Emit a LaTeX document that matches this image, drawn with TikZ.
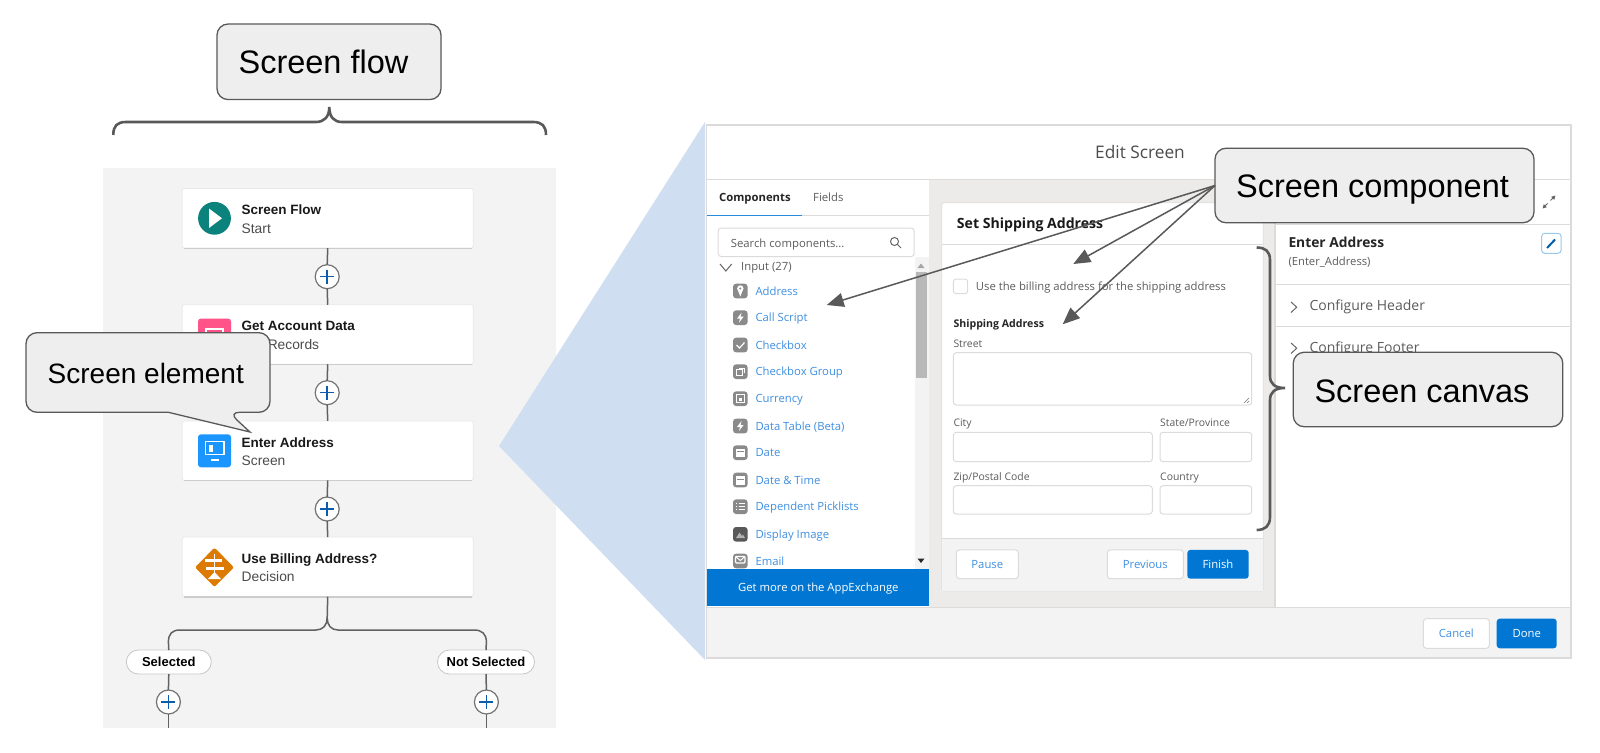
\documentclass[tikz,border=0pt]{standalone}
\usepackage{fontspec}
\setmainfont{Liberation Sans}
\newfontfamily\uifont{Open Sans}
\usetikzlibrary{arrows.meta}
\definecolor{panelgrey}{HTML}{F3F3F3}
\definecolor{midgrey}{HTML}{ECEBEA}
\definecolor{edgegrey}{HTML}{DDDBDA}
\definecolor{boxgrey}{HTML}{EEEEEE}
\definecolor{inkgrey}{HTML}{595959}
\definecolor{wedgeblue}{HTML}{CFDFF1}
\definecolor{sfblue}{HTML}{0176D3}
\definecolor{linkblue}{HTML}{3F8FE0}
\definecolor{plusblue}{HTML}{0B5CAB}
\definecolor{labelgrey}{HTML}{5C5C5C}
\definecolor{iconteal}{HTML}{0B827C}
\definecolor{iconpink}{HTML}{FF538A}
\definecolor{iconblue}{HTML}{1B96FF}
\definecolor{iconorange}{HTML}{DD7A01}
\definecolor{icongrey}{HTML}{8A8A8A}
\tikzset{
  calloutbox/.style={draw=inkgrey,fill=boxgrey,line width=1.3pt,rounded corners=11pt,inner sep=0pt,outer sep=0pt},
  callouttext/.style={inner sep=0pt,font=\fontsize{32.5}{38}\selectfont},
  calloutarrow/.style={draw=inkgrey,line width=1.5pt,-{Triangle[length=17pt,width=14pt]}},
  bracket/.style={draw=inkgrey,line width=2.6pt},
  flowcard/.style={draw=black!9,fill=white,line width=0.7pt,rounded corners=2pt,minimum width=291pt,minimum height=59.5pt,inner sep=0pt,outer sep=0pt},
  cardtitle/.style={anchor=west,inner sep=0pt,text height=10pt,text depth=0pt,text=black!90,font=\bfseries\fontsize{13.5}{15}\selectfont},
  cardsub/.style={anchor=west,inner sep=0pt,text height=10pt,text depth=0pt,text=black!70,font=\fontsize{13.8}{15}\selectfont},
  flowline/.style={draw=black!62,line width=1.5pt},
  plusnode/.style={circle,draw=black!55,fill=white,line width=1.2pt,minimum size=24pt,inner sep=0pt,outer sep=0pt},
  plusmark/.style={draw=plusblue,line width=1.5pt},
  pillnode/.style={draw=black!22,fill=white,rounded corners=12pt,line width=0.8pt,minimum height=24pt,inner sep=0pt,outer sep=0pt,font=\bfseries\fontsize{13}{15}\selectfont},
  uitext/.style={anchor=west,inner sep=0pt,text height=8.5pt,text depth=0.5pt,text=labelgrey,font=\uifont\fontsize{11.3}{13}\selectfont},
  uibold/.style={uitext,text=black!85,font=\uifont\bfseries\fontsize{11.3}{13}\selectfont},
  uilabel/.style={uitext,font=\uifont\fontsize{10.4}{13}\selectfont},
  uilarge/.style={uitext,text height=10pt,text depth=0pt,font=\uifont\fontsize{14}{16}\selectfont},
  linktext/.style={uitext,text=linkblue},
  inputbox/.style={draw=edgegrey,fill=white,line width=1pt,rounded corners=3pt},
  chevron/.style={draw=black!60,line width=1pt},
  whitebtn/.style={draw=edgegrey,fill=white,line width=1pt,rounded corners=3pt,inner sep=0pt,text=linkblue,font=\uifont\fontsize{11.3}{13}\selectfont},
  bluebtn/.style={fill=sfblue,rounded corners=3pt,inner sep=0pt,text=white,font=\uifont\fontsize{11.3}{13}\selectfont},
  glyph/.style={draw=white,line width=1.2pt},
}
\begin{document}
\begin{tikzpicture}[x=1pt,y=-1pt]
\useasboundingbox (0,0) rectangle (1600,752);

\fill [white] (0,0) rectangle (1600,752);
\fill [panelgrey] (103,168) rectangle (556,728);
\fill [wedgeblue] (499,446)--(705,122)--(705,660)--cycle;

\node[flowcard] (cardstart) at (327.7,218.3) {};
\node[flowcard] (cardget) at (327.7,334.5) {};
\node[flowcard] (cardscreen) at (327.7,450.7) {};
\node[flowcard] (carddecide) at (327.7,566.8) {};
\foreach \c in {cardstart,cardget,cardscreen,carddecide}
  \draw [black!20,line width=1.2pt] (\c.south west) ++(1.5,0.4) -- ([xshift=-1.5pt,yshift=-0.4pt]\c.south east);

\node[plusnode] (plusa) at (327.2,276.7) {};
\node[plusnode] (plusb) at (327.2,392.7) {};
\node[plusnode] (plusc) at (327.2,509) {};
\node[plusnode] (plusd) at (168.4,702) {};
\node[plusnode] (pluse) at (486.4,702) {};
\foreach \n in {a,b,c,d,e}
  \draw [plusmark] (plus\n.center) ++(-7,0) -- ++(14,0) ++(-7,-7) -- ++(0,14);

\node[pillnode,minimum width=85pt] (pillyes) at (168.8,662) {Selected};
\node[pillnode,minimum width=97pt] (pillno) at (486,662) {Not Selected};
\coordinate (endyes) at (168.4,728);
\coordinate (endno) at (486.4,728);
\coordinate (forktip) at (327.2,618);

\draw [flowline] (cardstart.south) -- (plusa.north);
\draw [flowline] (plusa.south) -- (cardget.north);
\draw [flowline] (cardget.south) -- (plusb.north);
\draw [flowline] (plusb.south) -- (cardscreen.north);
\draw [flowline] (cardscreen.south) -- (plusc.north);
\draw [flowline] (plusc.south) -- (carddecide.north);
\draw [flowline] (carddecide.south) -- (forktip);
\draw [flowline] (forktip) .. controls (327.2,625) and (323,630) .. (316,630) -- (180,630) .. controls (172,630) and (168.4,634) .. (168.4,642) -- (pillyes.north);
\draw [flowline] (forktip) .. controls (327.2,625) and (331,630) .. (338,630) -- (474,630) .. controls (482,630) and (486.4,634) .. (486.4,642) -- (pillno.north);
\draw [flowline] (pillyes.south) -- (plusd.north);
\draw [flowline] (pillno.south) -- (pluse.north);
\draw [flowline] (plusd.south) -- (endyes);
\draw [flowline] (pluse.south) -- (endno);

\node[cardtitle] (titlestart) at (241.5,209.5) {Screen Flow};
\node[cardsub] (substart) at (241.5,228) {Start};
\node[cardtitle] (titleget) at (241.5,325.7) {Get Account Data};
\node[cardsub] (subget) at (241.5,344) {Get Records};
\node[cardtitle] (titlescreen) at (241.5,442) {Enter Address};
\node[cardsub] (subscreen) at (241.5,460.7) {Screen};
\node[cardtitle] (titledecide) at (241.5,558) {Use Billing Address?};
\node[cardsub] (subdecide) at (241.5,576.7) {Decision};

\fill [iconteal] (214.5,218.3) circle (16.4);
\fill [white] (209,208.5)--(222,218.3)--(209,228)--cycle;
\fill [iconpink,rounded corners=3pt] (198,318.5) rectangle (231,351);
\draw [white,line width=2pt] (206,329) rectangle (223,336);
\fill [iconblue,rounded corners=3pt] (198,434.3) rectangle (231,467.3);
\draw [white,line width=1.5pt] (205.5,441.7) rectangle (224,454.7);
\fill [white] (208.5,444.5) rectangle (212.5,452);
\fill [white] (210.5,459) rectangle (219,461);
\fill [iconorange,rounded corners=2pt] (195,567.3)--(214.5,547.7)--(234,567.3)--(214.5,587)--cycle;
\draw [white,line width=1pt] (214.5,554)--(214.5,574);
\fill [white] (205,558.5) rectangle (222,562);
\fill [white] (206,566.5) rectangle (224,570);
\fill [white] (208,579)--(214.5,572)--(221,579)--cycle;

\draw [bracket] (113.3,135) .. controls (113.3,126) and (117,122) .. (126,122) -- (316,122) .. controls (324,122) and (329.3,117) .. (329.3,107) .. controls (329.3,117) and (334,122) .. (342,122) -- (533,122) .. controls (542,122) and (546,126) .. (546,135);

\draw [draw=edgegrey,fill=white,line width=1.2pt] (706.5,125) rectangle (1571,658);
\fill [panelgrey] (707,607) rectangle (1570.4,657.4);
\fill [midgrey] (928.7,179.5) rectangle (1275,607);
\draw [edgegrey,line width=0.8pt] (707,179)--(1570.4,179);
\draw [edgegrey,line width=0.8pt] (707,607)--(1570.4,607);
\draw [edgegrey,line width=1.5pt] (1275,179)--(1275,607);
\node[uitext,text=black!70,anchor=center,text height=12.5pt,text depth=0pt,font=\uifont\fontsize{17.3}{20}\selectfont] (edittitle) at (1140,152.3) {Edit Screen};

\node[uibold] (tabcomp) at (719,197.7) {Components};
\node[uitext] (tabfield) at (813,197.7) {Fields};
\draw [edgegrey,line width=0.8pt] (707,215.3)--(928.7,215.3);
\draw [sfblue!85!white,line width=1.6pt] (707,215.3)--(801.7,215.3);
\node[inputbox,minimum width=196pt,minimum height=28.5pt,inner sep=0pt] (searchbox) at (816.2,242.3) {};
\node[uitext] (searchtext) at (730.7,243) {Search components...};
\draw [black!60,line width=1pt] (894.5,241.5) circle (4) (897.5,244.5)--(901,248);
\draw [chevron] (720,264)--(725.8,271)--(731.7,264);
\node[uitext] (inputhead) at (741,266.7) {Input (27)};

\fill [panelgrey] (915,257)rectangle (928.7,569);
\fill [black!28] (915.5,272) rectangle (927,378);
\fill [black!35] (917.5,268)--(921,263.5)--(924.5,268)--cycle;
\fill [black!85] (917.5,558.5)--(924.5,558.5)--(921,563)--cycle;

\foreach \yy/\lab/\shade in {291/Address/icongrey,317.7/Call Script/icongrey,345/Checkbox/icongrey,371.7/Checkbox Group/icongrey,398.7/Currency/icongrey,426/Data Table (Beta)/icongrey,452.7/Date/icongrey,480/Date \& Time/icongrey,506.7/Dependent Picklists/icongrey,534.3/Display Image/black!65,561/Email/icongrey}
{
  \fill [\shade,rounded corners=3pt] (733,\yy-7.3) rectangle (747.6,\yy+7.3);
  \node[linktext] at (755.3,\yy) {\lab};
}
\fill [white] (740.3,288.5) circle (3.2);
\fill [white] (737.8,290)--(742.8,290)--(740.3,296.5)--cycle;
\fill [icongrey] (740.3,288.5) circle (1.1);
\foreach \yy in {317.7,426}
  \fill [white] (741.5,\yy-5)--(737,\yy+1)--(740,\yy+1)--(739,\yy+5)--(743.6,\yy-1)--(740.6,\yy-1)--cycle;
\draw [glyph] (736.5,345)--(739.5,348)--(744.5,342.5);
\draw [glyph,line width=0.9pt] (736.5,369) rectangle (742,375) (739,368) -- (744,368) -- (744,373);
\draw [glyph,line width=0.9pt] (736.3,394.7) rectangle (744.3,402.7);
\fill [white] (738.7,397.7) rectangle (741.9,400.7);
\foreach \yy in {452.7,480}
{
  \fill [white] (736,\yy-4) rectangle (744.6,\yy+4.5);
  \fill [icongrey] (736.8,\yy-1.5) rectangle (743.8,\yy-0.8);
}
\foreach \yy in {503.7,506.7,509.7}
  \draw [glyph,line width=0.9pt] (736,\yy)--(737,\yy) (738.5,\yy)--(744.6,\yy);
\fill [white!70!black] (736,538)--(739.5,532.5)--(742,536)--(743,534.5)--(745,538)--cycle;
\draw [white,line width=1.1pt,rounded corners=1pt] (735.5,556.5) rectangle (745,563);
\draw [white,line width=1pt] (735.5,556.5)--(740.3,560.5)--(745,556.5);
\fill [sfblue] (707,569.3) rectangle (928.7,605.7);
\node[uitext,text=white,anchor=center] (getmore) at (818.3,587.7) {Get more on the AppExchange};

\draw [draw=edgegrey,fill=white,line width=0.8pt,rounded corners=2pt] (941.7,202.7) rectangle (1263.3,591);
\fill [panelgrey] (942.2,538.3) rectangle (1262.8,590.5);
\draw [edgegrey,line width=0.8pt] (941.7,244.3)--(1263.3,244.3);
\draw [edgegrey,line width=0.8pt] (941.7,538.3)--(1263.3,538.3);
\node[uibold,text=black!90,text height=10pt,text depth=0pt,font=\uifont\bfseries\fontsize{14.1}{16}\selectfont] (settitle) at (956.7,223) {Set Shipping Address};
\draw [inputbox] (953.3,279) rectangle (967.7,293.7);
\node[uitext] (usebilling) at (975.7,286.7) {Use the billing address for the shipping address};
\node[uibold,font=\uifont\bfseries\fontsize{10.6}{13}\selectfont] (shiphead) at (953.3,323.7) {Shipping Address};
\node[uilabel] (streetlab) at (953.3,343.3) {Street};
\draw [inputbox] (953.3,352.7) rectangle (1251.7,405);
\draw [black!55,line width=0.6pt] (1244,403)--(1249,398) (1247,403)--(1249,401);
\node[uilabel] (citylab) at (953.3,422.3) {City};
\draw [inputbox] (953.3,432.3) rectangle (1152.3,461.7);
\node[uilabel] (statelab) at (1160,422.3) {State/Province};
\draw [inputbox] (1160,432.3) rectangle (1251.7,461.7);
\node[uilabel] (ziplab) at (953.3,476) {Zip/Postal Code};
\draw [inputbox] (953.3,485.7) rectangle (1152.3,514);
\node[uilabel] (countrylab) at (1160,476) {Country};
\draw [inputbox] (1160,485.7) rectangle (1251.7,514);
\node[whitebtn,minimum width=62pt,minimum height=28.7pt] (btnpause) at (987.3,564.3) {Pause};
\node[whitebtn,minimum width=76pt,minimum height=28.7pt] (btnprev) at (1145.3,564.3) {Previous};
\node[bluebtn,minimum width=61.4pt,minimum height=28.7pt] (btnfinish) at (1218,564.3) {Finish};
\node[whitebtn,minimum width=66pt,minimum height=29.6pt] (btncancel) at (1456.3,633.5) {Cancel};
\node[bluebtn,minimum width=60pt,minimum height=29.6pt] (btndone) at (1526.7,633.5) {Done};

\draw [edgegrey,line width=0.8pt] (1276,224)--(1570.4,224);
\draw [edgegrey,line width=0.8pt] (1276,284.3)--(1570.4,284.3);
\draw [edgegrey,line width=0.8pt] (1276,326.7)--(1570.4,326.7);
\node[uibold,text height=10pt,text depth=0pt,font=\uifont\bfseries\fontsize{13.8}{16}\selectfont] (panelname) at (1288.3,242) {Enter Address};
\node[uilabel,font=\uifont\fontsize{11.25}{13}\selectfont] (panelapi) at (1288.3,261.3) {(Enter\_Address)};
\draw [chevron] (1291,302)--(1296.7,307.2)--(1291,312.5);
\node[uilarge] (confhead) at (1309.3,305.7) {Configure Header};
\draw [chevron] (1291,343)--(1296.7,348.2)--(1291,353.5);
\node[uilarge] (conffoot) at (1309.3,347.7) {Configure Footer};
\draw [black!60,line width=1pt,-{Triangle[length=4pt,width=4pt]}] (1550.5,200.5)--(1555.5,195.5);
\draw [black!60,line width=1pt,-{Triangle[length=4pt,width=4pt]}] (1547.5,203.5)--(1542.5,208.5);
\draw [draw=sfblue!40,fill=white,line width=1pt,rounded corners=3pt] (1541.7,233.3) rectangle (1561,253.3);
\draw [sfblue!80!black,line width=2pt] (1547,248)--(1555,239.5);

\draw [bracket] (1256.7,247.5) .. controls (1265,247.5) and (1270,251) .. (1270,260) -- (1270,376) .. controls (1270,384) and (1275,388) .. (1285,388) .. controls (1275,388) and (1270,392) .. (1270,400) -- (1270,517) .. controls (1270,526) and (1265,530) .. (1256.7,530);

\node[calloutbox,minimum width=224pt,minimum height=75.5pt] (flowbox) at (329,61.8) {};
\node[callouttext] (flowtext) at (323.5,62) {Screen flow};
\draw [calloutbox] (100,332.7) -- (270,332.7) -- (270,412.3) -- (228.5,412.3) [sharp corners] -- (250,432) -- (168.4,412.3) -- (160,412.3) [rounded corners=11pt] -- (26,412.3) -- (26,332.7) -- cycle;
\node[callouttext,font=\fontsize{28}{34}\selectfont] (elementtext) at (145.8,373) {Screen element};
\node[calloutbox,minimum width=319pt,minimum height=74.5pt] (compbox) at (1374.5,185.5) {};
\node[callouttext] (comptext) at (1372.5,189.5) {Screen component};
\node[calloutbox,minimum width=269.5pt,minimum height=74.5pt] (canvasbox) at (1428,389.5) {};
\node[callouttext] (canvastext) at (1422,391) {Screen canvas};

\coordinate (tipaddress) at (826.7,305);
\coordinate (tipcheckbox) at (1073.3,264);
\coordinate (tipshipping) at (1062.7,324.3);
\draw [calloutarrow] (compbox.west) -- (tipaddress);
\draw [calloutarrow] (compbox.west) -- (tipcheckbox);
\draw [calloutarrow] (compbox.west) -- (tipshipping);
\end{tikzpicture}
\end{document}
